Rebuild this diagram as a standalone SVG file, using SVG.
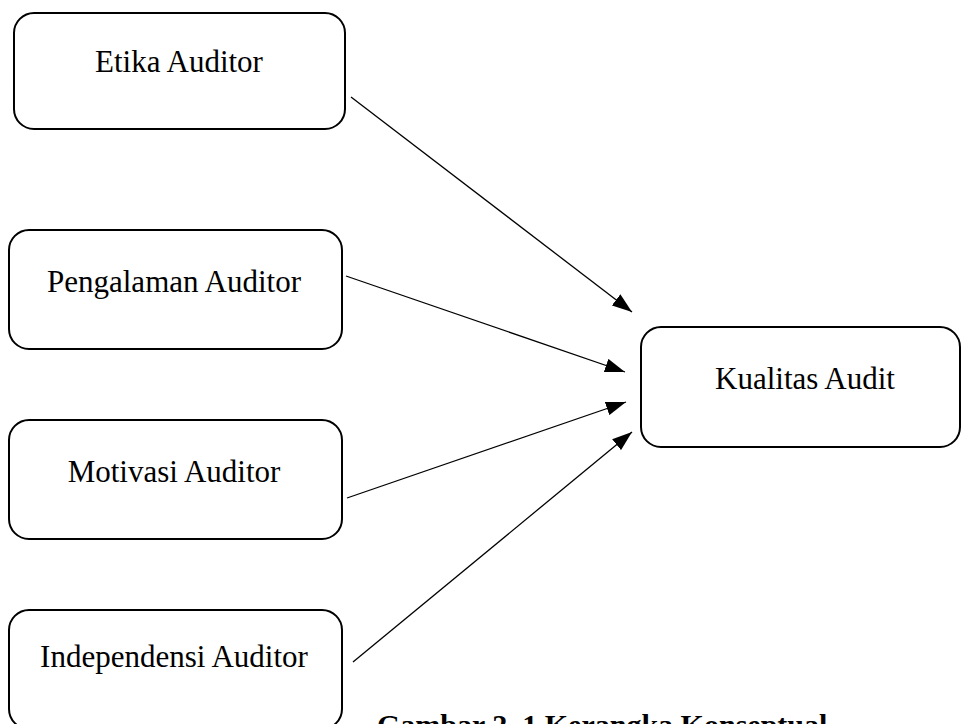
<svg xmlns="http://www.w3.org/2000/svg" width="962" height="724" viewBox="0 0 962 724">
<style>
.box{fill:#fff;stroke:#000;stroke-width:2}
.lbl{font-family:"Liberation Serif","Times New Roman",serif;font-size:31px;fill:#000;text-anchor:middle}
.cap{font-family:"Liberation Serif","Times New Roman",serif;font-size:30px;font-weight:bold;fill:#000}
.edge{stroke:#000;stroke-width:1.3;fill:none;marker-end:url(#ah)}
</style>
<defs>
<marker id="ah" markerUnits="userSpaceOnUse" markerWidth="20" markerHeight="14" refX="20" refY="7" orient="auto">
<path d="M0,0 L20,7 L0,14 z" fill="#000"/>
</marker>
</defs>
<rect width="962" height="724" fill="#fff"/>
<g id="etika"><rect class="box" x="14" y="13" width="331" height="116" rx="20"/><text class="lbl" x="179" y="72">Etika Auditor</text></g>
<g id="pengalaman"><rect class="box" x="9" y="230" width="333" height="119" rx="20"/><text class="lbl" x="174" y="292">Pengalaman Auditor</text></g>
<g id="motivasi"><rect class="box" x="9" y="420" width="333" height="119" rx="20"/><text class="lbl" x="174" y="482">Motivasi Auditor</text></g>
<g id="independensi"><rect class="box" x="9" y="610" width="333" height="119" rx="20"/><text class="lbl" x="174" y="667">Independensi Auditor</text></g>
<g id="kualitas"><rect class="box" x="641" y="327" width="319" height="120" rx="20"/><text class="lbl" x="805" y="389">Kualitas Audit</text></g>
<g id="connectors">
<line class="edge" x1="351" y1="97" x2="632" y2="312"/>
<line class="edge" x1="346" y1="276" x2="625" y2="372"/>
<line class="edge" x1="347" y1="498" x2="626" y2="402"/>
<line class="edge" x1="353" y1="662" x2="632" y2="432"/>
</g>
<text class="cap" x="377" y="735">Gambar 2. 1 Kerangka Konseptual</text>
</svg>
